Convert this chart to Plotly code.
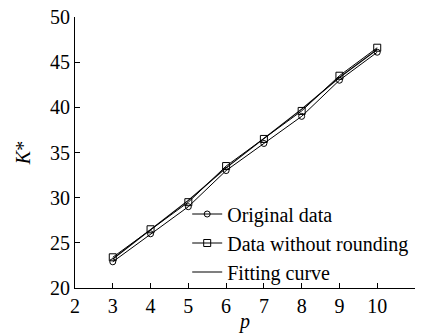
import plotly.graph_objects as go

p = [3, 4, 5, 6, 7, 8, 9, 10]
original = [22.9, 26.0, 29.0, 33.0, 36.0, 39.0, 43.0, 46.1]
no_round = [23.4, 26.5, 29.5, 33.5, 36.5, 39.6, 43.5, 46.6]
fitting = [23.2, 26.4, 29.7, 33.3, 36.5, 39.8, 43.3, 46.4]

FONT = "Liberation Serif"

fig = go.Figure()
fig.add_trace(go.Scatter(x=p, y=original, name="Original data", mode="lines+markers",
                         line=dict(color="black", width=1),
                         marker=dict(symbol="circle-open", size=6, color="black", line=dict(width=1))))
fig.add_trace(go.Scatter(x=p, y=no_round, name="Data without rounding", mode="lines+markers",
                         line=dict(color="black", width=1),
                         marker=dict(symbol="square-open", size=7, color="black", line=dict(width=1))))
fig.add_trace(go.Scatter(x=p, y=fitting, name="Fitting curve", mode="lines",
                         line=dict(color="black", width=1.2)))

fig.update_layout(
    width=424, height=333,
    margin=dict(l=75, r=9, t=17, b=45),
    paper_bgcolor="white", plot_bgcolor="white",
    font=dict(family=FONT, size=20, color="black"),
    showlegend=True,
    legend=dict(x=0.33, y=0.345, xanchor="left", yanchor="top",
                bgcolor="rgba(0,0,0,0)", font=dict(family=FONT, size=20),
                tracegroupgap=0, itemwidth=30),
    xaxis=dict(range=[2, 11], tickmode="linear", tick0=2, dtick=1, tickangle=0,
               showline=True, linecolor="black", linewidth=1,
               ticks="inside", ticklen=5, tickcolor="black",
               showgrid=False, zeroline=False, automargin=False,
               title=dict(text="<i>p</i>", standoff=0, font=dict(size=20))),
    yaxis=dict(range=[20, 50], tickmode="linear", tick0=20, dtick=5,
               showline=True, linecolor="black", linewidth=1,
               ticks="inside", ticklen=5, tickcolor="black",
               showgrid=False, zeroline=False, automargin=False,
               title=dict(text="<i>K</i>*", standoff=14, font=dict(size=20))),
)

fig.write_html("out.html")
